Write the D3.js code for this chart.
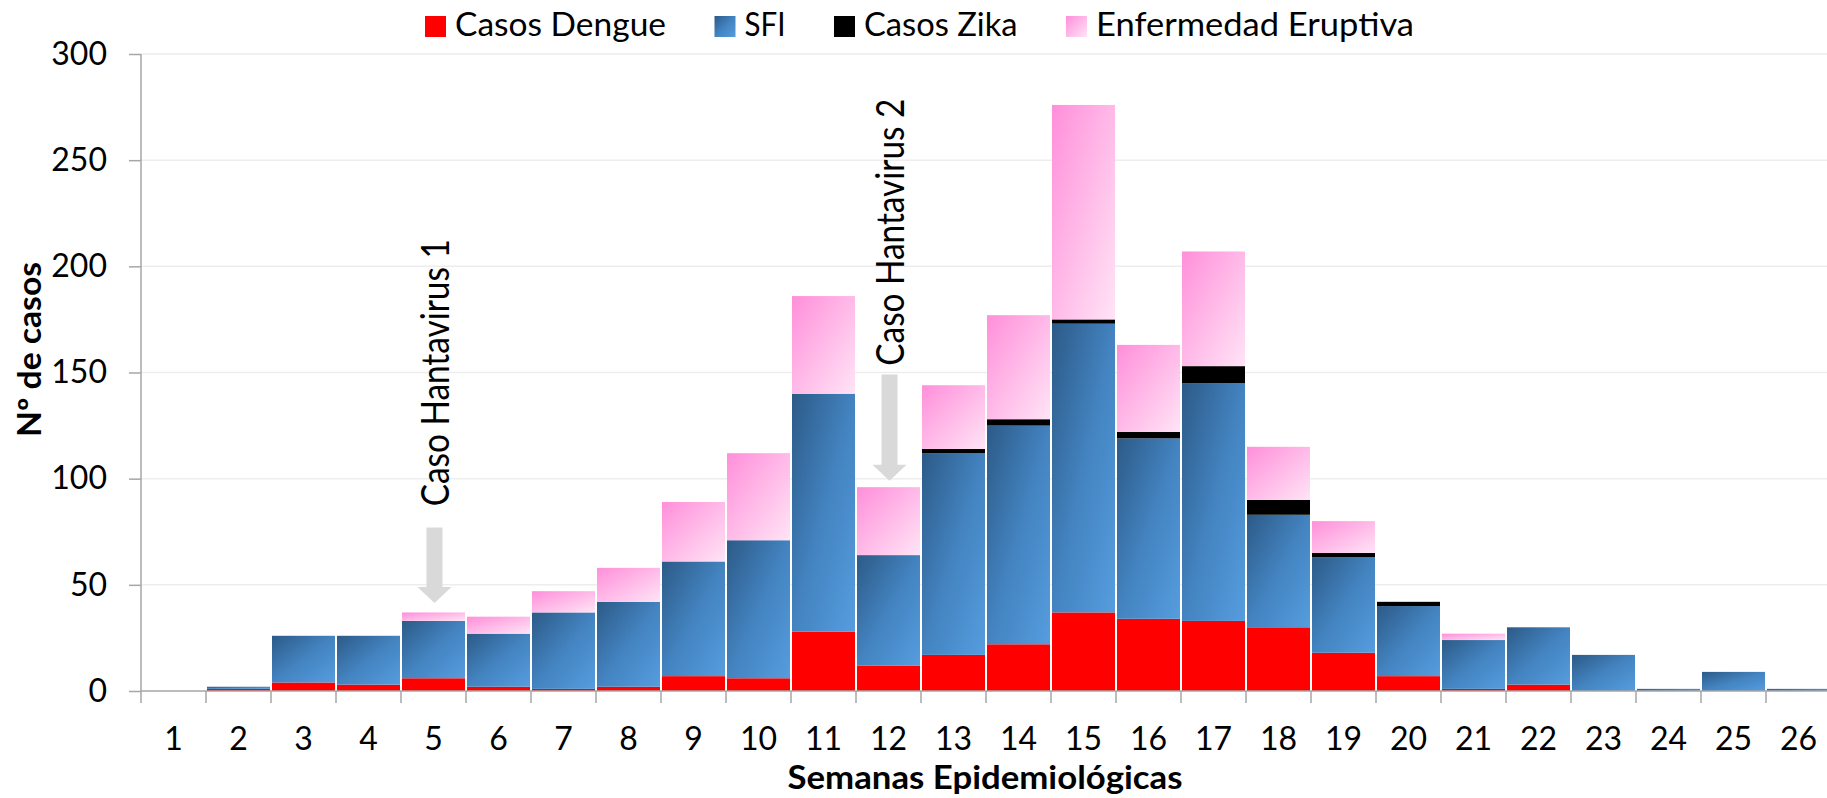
<!DOCTYPE html>
<html>
<head>
<meta charset="utf-8">
<script src="https://cdn.jsdelivr.net/npm/d3@7"></script>
<style>
  body { margin: 0; background: #fff; }
  text { font-family: Lato, "Noto Sans", sans-serif; fill: #000; }
</style>
</head>
<body>
<script>
// semanas epidemiologicas
const weeks = d3.range(1, 27);
const dengue = [0, 1, 4, 3, 6, 2, 1, 2, 7, 6, 28, 12, 17, 22, 37, 34, 33, 30, 18, 7, 1, 3, 0, 0, 0, 0];
const sfi    = [0, 1, 22, 23, 27, 25, 36, 40, 54, 65, 112, 52, 95, 103, 136, 85, 112, 53, 45, 33, 23, 27, 17, 1, 9, 1];
const zika   = [0, 0, 0, 0, 0, 0, 0, 0, 0, 0, 0, 0, 2, 3, 2, 3, 8, 7, 2, 2, 0, 0, 0, 0, 0, 0];
const erupt  = [0, 0, 0, 0, 4, 8, 10, 16, 28, 41, 46, 32, 30, 49, 101, 41, 54, 25, 15, 0, 3, 0, 0, 0, 0, 0];
const seriesNames = ["Casos Dengue", "SFI", "Casos Zika", "Enfermedad Eruptiva"];
const yTicks = [0, 50, 100, 150, 200, 250, 300];

// anotaciones (semana, valor de la punta, valor arriba de la flecha, pie del texto)
const notes = ["Caso Hantavirus 1", "Caso Hantavirus 2"];
const noteWeeks = [5, 12];
const noteTip = [41.5, 99];
const noteTop = [77, 149];
const noteText = [87, 153.2];

const width = 1827, height = 798;
const margin = {top: 54, left: 141, bottom: 107};

const svg = d3.select("body").append("svg")
  .attr("width", width)
  .attr("height", height);

const defs = svg.append("defs");
const blue = defs.append("linearGradient").attr("id", "gBlue")
  .attr("x1", 0).attr("y1", 0).attr("x2", 1).attr("y2", 1);
blue.append("stop").attr("offset", 0).attr("stop-color", "#2c5a87");
blue.append("stop").attr("offset", 0.5).attr("stop-color", "#4383c0");
blue.append("stop").attr("offset", 1).attr("stop-color", "#569ddf");
const pink = defs.append("linearGradient").attr("id", "gPink")
  .attr("x1", 0).attr("y1", 0).attr("x2", 1).attr("y2", 1);
pink.append("stop").attr("offset", 0).attr("stop-color", "#ff8fda");
pink.append("stop").attr("offset", 1).attr("stop-color", "#ffe4f6");

const fills = ["#ff0000", "url(#gBlue)", "#000000", "url(#gPink)"];

const x = d3.scaleBand()
  .domain(weeks)
  .range([margin.left, margin.left + 26 * 65.0])
  .padding(0);

const y = d3.scaleLinear()
  .domain([0, 300])
  .range([height - margin.bottom, margin.top]);

// gridlines
svg.append("g")
  .selectAll("line")
  .data(yTicks.slice(1))
  .join("line")
  .attr("x1", margin.left).attr("x2", width)
  .attr("y1", d => y(d)).attr("y2", d => y(d))
  .attr("stroke", "#ededed")
  .attr("stroke-width", 1.5);

// stacked bars
const table = weeks.map((w, i) => ({
  week: w, "Casos Dengue": dengue[i], "SFI": sfi[i], "Casos Zika": zika[i], "Enfermedad Eruptiva": erupt[i]
}));
const stacked = d3.stack().keys(seriesNames)(table);

svg.append("g")
  .selectAll("g")
  .data(stacked)
  .join("g")
  .attr("fill", (d, i) => fills[i])
  .selectAll("rect")
  .data(d => d.filter(s => s[1] - s[0] > 0))
  .join("rect")
  .attr("x", d => x(d.data.week) + 1)
  .attr("width", x.bandwidth() - 2)
  .attr("y", d => y(d[1]))
  .attr("height", d => y(d[0]) - y(d[1]));

// y axis
const yAxis = svg.append("g")
  .attr("transform", "translate(" + margin.left + ",0)")
  .call(d3.axisLeft(y).tickValues(yTicks).tickSize(12).tickPadding(22));
yAxis.selectAll("line, path").attr("stroke", "#a6a6a6").attr("stroke-width", 1.5);
yAxis.select(".domain").attr("d", "M0," + y(300) + "V" + y(0));
yAxis.selectAll("text").attr("font-size", 32).attr("font-family", "Lato, sans-serif").attr("fill", "#000");

// x axis: ticks between categories
const xAxisG = svg.append("g")
  .attr("transform", "translate(0," + y(0) + ")");
xAxisG.append("line")
  .attr("x1", margin.left).attr("x2", width)
  .attr("stroke", "#a6a6a6").attr("stroke-width", 1.5);
xAxisG.selectAll(".tk")
  .data(weeks)
  .join("line")
  .attr("class", "tk")
  .attr("x1", d => x(d)).attr("x2", d => x(d))
  .attr("y1", 0).attr("y2", 12)
  .attr("stroke", "#a6a6a6").attr("stroke-width", 1.5);
xAxisG.selectAll("text")
  .data(weeks)
  .join("text")
  .attr("x", d => x(d) + x.bandwidth() / 2)
  .attr("y", 59)
  .attr("text-anchor", "middle")
  .attr("font-size", 32)
  .text(d => d);

// axis titles
svg.append("text")
  .attr("x", 985).attr("y", 789)
  .attr("text-anchor", "middle")
  .attr("font-size", 32).attr("font-weight", "bold")
  .attr("textLength", 395).attr("lengthAdjust", "spacingAndGlyphs")
  .text("Semanas Epidemiológicas");

svg.append("text")
  .attr("transform", "translate(41,349.5) rotate(-90)")
  .attr("text-anchor", "middle")
  .attr("font-size", 32).attr("font-weight", "bold")
  .attr("textLength", 175).attr("lengthAdjust", "spacingAndGlyphs")
  .text("Nº de casos");

// legend
const legendLens = [211, 41, 153.5, 318];
let lx = 425;
seriesNames.forEach((name, i) => {
  svg.append("rect")
    .attr("x", lx).attr("y", 16)
    .attr("width", 21).attr("height", 21)
    .attr("fill", fills[i]);
  svg.append("text")
    .attr("x", lx + 30).attr("y", 36)
    .attr("font-size", 32)
    .attr("textLength", legendLens[i]).attr("lengthAdjust", "spacingAndGlyphs")
    .text(name);
  lx += 30 + legendLens[i] + 48.5;
});

// flechas y textos hantavirus
notes.forEach((label, i) => {
  const cx = x(noteWeeks[i]) + x.bandwidth() / 2 + 1;
  const tip = y(noteTip[i]), top = y(noteTop[i]);
  const headStart = tip - 16;
  svg.append("path")
    .attr("d", "M" + (cx - 8) + "," + top + "H" + (cx + 8) + "V" + headStart +
      "H" + (cx + 17) + "L" + cx + "," + tip + "L" + (cx - 17) + "," + headStart +
      "H" + (cx - 8) + "Z")
    .attr("fill", "#d9d9d9");
  svg.append("text")
    .attr("transform", "translate(" + (cx + 14) + "," + y(noteText[i]) + ") rotate(-90)")
    .attr("font-family", "'Liberation Sans Narrow', 'Liberation Sans', Arial, sans-serif")
    .attr("font-size", 38)
    .attr("textLength", 267).attr("lengthAdjust", "spacingAndGlyphs")
    .text(label);
});
</script>
</body>
</html>
